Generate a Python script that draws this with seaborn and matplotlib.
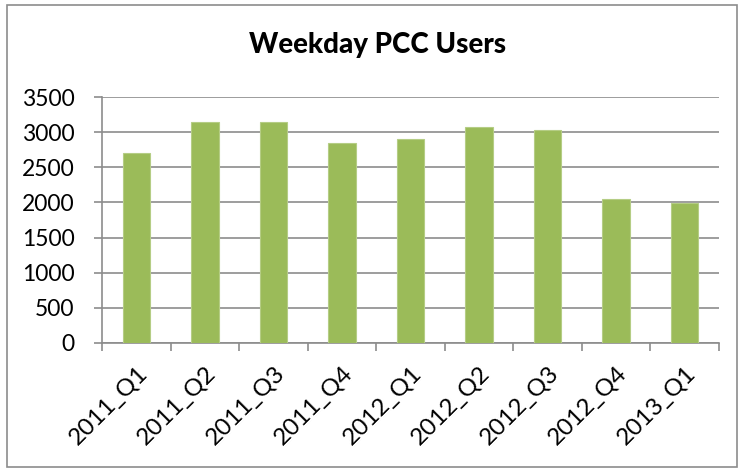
import matplotlib
matplotlib.use("Agg")
import matplotlib.pyplot as plt
import seaborn as sns
import pandas as pd
from matplotlib.patches import Rectangle

quarters = ["2011_Q1", "2011_Q2", "2011_Q3", "2011_Q4", "2012_Q1",
            "2012_Q2", "2012_Q3", "2012_Q4", "2013_Q1"]
users = [2700, 3150, 3150, 2850, 2900, 3080, 3035, 2050, 1985]
yticks = [0, 500, 1000, 1500, 2000, 2500, 3000, 3500]

sns.set_theme(style="white")
plt.rcParams['font.family'] = ['Lato', 'DejaVu Sans']

df = pd.DataFrame({"quarter": quarters, "users": users})

fig = plt.figure(figsize=(7.41, 4.69), dpi=100)
ax = fig.add_axes([0.138, 0.269, 0.832, 0.524])

sns.barplot(data=df, x="quarter", y="users", color="#9BBB59", width=0.4,
            saturation=1, ax=ax, zorder=3, edgecolor="#B5CD85", linewidth=0.8)

ax.set_ylim(0, 3500)
ax.set_yticks(yticks)
ax.set_yticklabels([str(v) for v in yticks], fontsize=16.5)
ax.set_xlim(-0.5, len(quarters) - 0.5)
ax.grid(axis="y", color="#8C8C8C", linewidth=1.2, zorder=0)
ax.set_xlabel("")
ax.set_ylabel("")

for s in ["top", "right"]:
    ax.spines[s].set_visible(False)
for s in ["left", "bottom"]:
    ax.spines[s].set_color("#8C8C8C")
    ax.spines[s].set_linewidth(1.2)

ax.tick_params(axis="y", which="major", direction="out", length=6, width=1.2,
               color="#8C8C8C", left=True, pad=14, labelcolor="black")
# category tick labels at centers, tick marks at boundaries
ax.tick_params(axis="x", which="major", length=0, pad=14, labelcolor="black")
ax.set_xticks(range(len(quarters)))
ax.set_xticklabels(quarters, rotation=45, ha="right", rotation_mode="anchor",
                   fontsize=17.5)
ax.set_xticks([i - 0.5 for i in range(len(quarters) + 1)], minor=True)
ax.tick_params(axis="x", which="minor", direction="out", length=6, width=1.2,
               color="#8C8C8C", bottom=True)

fig.text(0.509, 0.903, "Weekday PCC Users", ha="center", va="center",
         fontsize=20, fontweight="black", color="black")

fig.patches.append(Rectangle((0.009, 0.004), 0.985, 0.985,
                             transform=fig.transFigure, fill=False,
                             edgecolor="#8C8C8C", linewidth=1.2))

fig.savefig("out.png", dpi=100)
